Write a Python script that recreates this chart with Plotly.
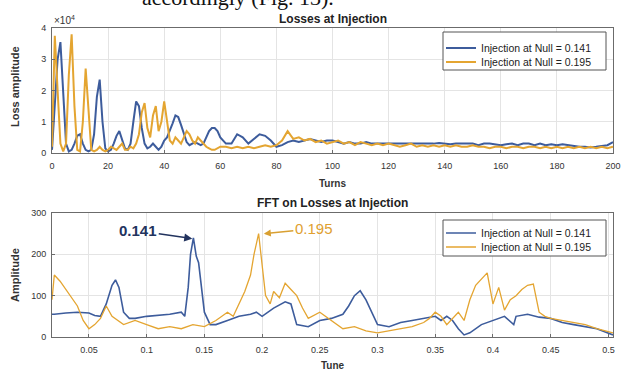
import plotly.graph_objects as go

# ---------------- data ----------------
turns = list(range(0, 61)) + list(range(62, 201, 2))

loss_0141 = [0.1, 1.5, 3.0, 3.55, 2.0, 0.3, 0.05, 0.1, 0.3, 0.55,
             0.6, 0.3, 0.1, 0.05, 0.1, 0.6, 1.8, 2.35, 1.0, 0.15,
             0.05, 0.1, 0.3, 0.55, 0.7, 0.4, 0.15, 0.1, 0.3, 1.0,
             1.65, 1.5, 0.8, 0.3, 0.15, 0.2, 0.3, 0.2, 0.1, 0.2,
             0.4, 0.5, 0.7, 0.95, 1.2, 1.15, 0.9, 0.6, 0.35, 0.25,
             0.3, 0.35, 0.3, 0.25, 0.3, 0.5, 0.7, 0.8, 0.8, 0.7, 0.5,
             0.3, 0.3, 0.6, 0.5, 0.3, 0.45, 0.6, 0.55, 0.4, 0.2,
             0.25, 0.35, 0.4, 0.35, 0.4, 0.45, 0.4, 0.35, 0.4, 0.4,
             0.35, 0.3, 0.35, 0.3, 0.3, 0.35, 0.3, 0.3, 0.3, 0.3,
             0.3, 0.28, 0.3, 0.3, 0.28, 0.3, 0.28, 0.3, 0.32, 0.3,
             0.28, 0.3, 0.3, 0.28, 0.3, 0.25, 0.3, 0.3, 0.28, 0.25,
             0.28, 0.3, 0.25, 0.3, 0.3, 0.25, 0.3, 0.25, 0.28, 0.25,
             0.28, 0.25, 0.22, 0.2, 0.2, 0.18, 0.2, 0.22, 0.25, 0.35]

loss_0195 = [0.2, 3.75, 2.0, 0.3, 0.05, 0.3, 2.5, 3.8, 1.5, 0.1,
             0.05, 1.0, 2.7, 1.5, 0.1, 0.05, 0.1, 0.2, 0.1, 0.05,
             0.1, 0.2, 0.15, 0.1, 0.2, 0.3, 0.1, 0.1, 0.2, 0.15,
             0.3, 0.6, 1.3, 1.6, 0.8, 0.5, 1.2, 1.5, 0.7, 1.0,
             1.65, 1.0, 0.4, 0.3, 0.5, 0.4, 0.3, 0.5, 0.7, 0.6,
             0.4, 0.3, 0.5, 0.4, 0.3, 0.2, 0.15, 0.1, 0.1, 0.15, 0.2,
             0.2, 0.15, 0.2, 0.15, 0.2, 0.15, 0.2, 0.25, 0.2, 0.25,
             0.4, 0.7, 0.45, 0.5, 0.4, 0.45, 0.35, 0.4, 0.3, 0.35,
             0.4, 0.3, 0.35, 0.25, 0.35, 0.3, 0.25, 0.3, 0.25, 0.3,
             0.25, 0.2, 0.25, 0.3, 0.2, 0.25, 0.2, 0.25, 0.2, 0.25,
             0.2, 0.25, 0.2, 0.2, 0.25, 0.2, 0.2, 0.15, 0.2, 0.2,
             0.15, 0.2, 0.2, 0.15, 0.2, 0.2, 0.15, 0.2, 0.15, 0.2,
             0.15, 0.2, 0.15, 0.2, 0.15, 0.2, 0.15, 0.2, 0.15, 0.2]

tune_0141 = [0.018, 0.02, 0.03, 0.04, 0.05, 0.055, 0.06, 0.065, 0.07, 0.073,
             0.076, 0.08, 0.085, 0.09, 0.1, 0.11, 0.12, 0.13, 0.133, 0.136,
             0.138, 0.1405, 0.143, 0.145, 0.147, 0.15, 0.155, 0.16, 0.17, 0.18,
             0.19, 0.195, 0.2, 0.21, 0.22, 0.225, 0.23, 0.24, 0.25, 0.26,
             0.27, 0.275, 0.28, 0.285, 0.29, 0.295, 0.3, 0.31, 0.32, 0.33,
             0.34, 0.35, 0.355, 0.36, 0.365, 0.37, 0.375, 0.38, 0.39, 0.4,
             0.405, 0.41, 0.418, 0.42, 0.43, 0.44, 0.45, 0.46, 0.47, 0.48,
             0.49, 0.504]
fft_0141 = [55, 55, 58, 60, 58, 52, 50, 80, 125, 138,
            120, 60, 45, 45, 50, 52, 55, 60, 50, 120,
            200, 240, 195, 180, 130, 60, 30, 30, 40, 50,
            55, 60, 50, 70, 85, 80, 30, 25, 40, 45,
            55, 75, 100, 112, 90, 60, 30, 25, 35, 40,
            45, 50, 40, 50, 40, 20, 5, 10, 30, 40,
            45, 50, 30, 50, 55, 48, 45, 35, 30, 25,
            20, 5]

tune_0195 = [0.018, 0.02, 0.025, 0.03, 0.035, 0.04, 0.045, 0.05, 0.055, 0.06,
             0.065, 0.07, 0.08, 0.09, 0.1, 0.11, 0.12, 0.13, 0.14, 0.15,
             0.16, 0.165, 0.17, 0.175, 0.18, 0.185, 0.19, 0.193, 0.197, 0.2,
             0.203, 0.207, 0.21, 0.215, 0.22, 0.225, 0.23, 0.235, 0.24, 0.25,
             0.26, 0.27, 0.28, 0.29, 0.3, 0.31, 0.32, 0.33, 0.34, 0.345,
             0.35, 0.355, 0.36, 0.365, 0.37, 0.375, 0.38, 0.385, 0.39, 0.395,
             0.4, 0.405, 0.41, 0.415, 0.42, 0.425, 0.43, 0.435, 0.44, 0.445,
             0.45, 0.46, 0.47, 0.48, 0.49, 0.504]
fft_0195 = [90, 150, 135, 115, 95, 75, 40, 20, 30, 45,
            75, 50, 30, 40, 30, 20, 25, 20, 30, 25,
            40, 50, 60, 50, 80, 110, 150, 200, 250, 170,
            100, 80, 110, 95, 130, 115, 100, 70, 45, 60,
            40, 20, 25, 15, 10, 15, 20, 25, 35, 45,
            60, 50, 30, 45, 60, 40, 90, 125, 140, 155,
            80, 120, 65, 90, 100, 115, 125, 128, 60, 50,
            45, 40, 35, 30, 20, 10]

top_xticks = [0, 20, 40, 60, 80, 100, 120, 140, 160, 180, 200]
top_yticks = [0, 1, 2, 3, 4]
bot_xticks = [0.05, 0.1, 0.15, 0.2, 0.25, 0.3, 0.35, 0.4, 0.45, 0.5]
bot_xlabels = ["0.05", "0.1", "0.15", "0.2", "0.25", "0.3", "0.35", "0.4", "0.45", "0.5"]
bot_yticks = [0, 100, 200, 300]

names = ["Injection at Null = 0.141", "Injection at Null = 0.195"]

# ---------------- style ----------------
BLUE = "#3d5c9c"
ORANGE = "#e4a531"
FONT = "Liberation Sans"

fig = go.Figure()

fig.add_trace(go.Scatter(x=turns, y=loss_0141, mode="lines", name=names[0],
                         line=dict(color=BLUE, width=2), xaxis="x", yaxis="y",
                         legend="legend"))
fig.add_trace(go.Scatter(x=turns, y=loss_0195, mode="lines", name=names[1],
                         line=dict(color=ORANGE, width=2), xaxis="x", yaxis="y",
                         legend="legend2"))
fig.add_trace(go.Scatter(x=tune_0141, y=fft_0141, mode="lines", name=names[0],
                         line=dict(color=BLUE, width=1.6), xaxis="x2", yaxis="y2",
                         legend="legend3"))
fig.add_trace(go.Scatter(x=tune_0195, y=fft_0195, mode="lines", name=names[1],
                         line=dict(color=ORANGE, width=1.3), xaxis="x2", yaxis="y2",
                         legend="legend4"))

axis_common = dict(showline=True, linecolor="#6b6b6b", linewidth=1, mirror=True,
                   showgrid=True, gridcolor="#e4e4e4", gridwidth=1,
                   ticks="inside", ticklen=3, tickcolor="#6b6b6b",
                   zeroline=False, automargin=False,
                   tickfont=dict(family=FONT, size=9, color="#333"))


def paper_y(px):
    return (337 - px) / 309


def paper_x(px):
    return (px - 52) / 561


def one_legend(ypx):
    return dict(x=paper_x(441), y=paper_y(ypx), xanchor="left", yanchor="middle",
                bgcolor="rgba(0,0,0,0)", borderwidth=0,
                font=dict(family=FONT, size=10.5, color="#222"),
                itemwidth=30, tracegroupgap=0)


fig.update_layout(
    width=624, height=371,
    margin=dict(l=52, r=11, t=28, b=34, autoexpand=False),
    paper_bgcolor="white", plot_bgcolor="white",
    font=dict(family=FONT, size=9, color="#222"),
    xaxis=dict(domain=[0, 1], range=[0, 200], tickvals=top_xticks, anchor="y",
               ticklabelstandoff=4, **axis_common),
    yaxis=dict(domain=[paper_y(153), 1], range=[0, 4], tickvals=top_yticks, anchor="x",
               ticklabelstandoff=3, **axis_common),
    xaxis2=dict(domain=[0, 1], range=[0.018, 0.504], tickvals=bot_xticks, ticktext=bot_xlabels,
                anchor="y2", ticklabelstandoff=4, **axis_common),
    yaxis2=dict(domain=[0, paper_y(213)], range=[0, 300], tickvals=bot_yticks, anchor="x2",
                ticklabelstandoff=3, **axis_common),
    legend=one_legend(48),
    legend2=one_legend(62),
    legend3=one_legend(233),
    legend4=one_legend(247),
    showlegend=True,
    shapes=[
        dict(type="rect", xref="paper", yref="paper", x0=paper_x(443), x1=paper_x(606),
             y0=paper_y(70), y1=paper_y(32), line=dict(color="#555", width=1),
             fillcolor="white", layer="above"),
        dict(type="rect", xref="paper", yref="paper", x0=paper_x(443), x1=paper_x(606),
             y0=paper_y(256), y1=paper_y(220), line=dict(color="#555", width=1),
             fillcolor="white", layer="above"),
    ],
)

ann = []
# clipped page text at top
ann.append(dict(text="accordingly (Fig. 13).", xref="paper", yref="paper", x=paper_x(140), y=1,
                xanchor="left", yanchor="bottom", yshift=16, showarrow=False,
                font=dict(family="Liberation Serif", size=22, color="#111")))
# titles
ann.append(dict(text="<b>Losses at Injection</b>", xref="paper", yref="paper", x=0.5, y=1,
                xanchor="center", yanchor="bottom", yshift=0, showarrow=False,
                font=dict(family=FONT, size=12, color="#222")))
ann.append(dict(text="<b>FFT on Losses at Injection</b>", xref="paper", yref="paper", x=0.5,
                y=paper_y(213), xanchor="center", yanchor="bottom", yshift=1, showarrow=False,
                font=dict(family=FONT, size=12, color="#222")))
# exponent
ann.append(dict(text="\u00d710<sup>4</sup>", xref="paper", yref="paper", x=0.0, y=1,
                xanchor="left", yanchor="bottom", yshift=0, showarrow=False,
                font=dict(family=FONT, size=10, color="#333")))
# axis titles
ann.append(dict(text="<b>Turns</b>", xref="paper", yref="paper", x=0.5, y=paper_y(153),
                xanchor="center", yanchor="top", yshift=-23, showarrow=False,
                font=dict(family=FONT, size=10, color="#333")))
ann.append(dict(text="<b>Tune</b>", xref="paper", yref="paper", x=0.5, y=0,
                xanchor="center", yanchor="top", yshift=-21, showarrow=False,
                font=dict(family=FONT, size=10, color="#333")))
ann.append(dict(text="<b>Loss amplitude</b>", xref="paper", yref="paper", x=0, y=paper_y(87),
                xanchor="right", yanchor="middle", xshift=-29, textangle=-90, showarrow=False,
                font=dict(family=FONT, size=11, color="#333")))
ann.append(dict(text="<b>Amplitude</b>", xref="paper", yref="paper", x=0, y=paper_y(275),
                xanchor="right", yanchor="middle", xshift=-29, textangle=-90, showarrow=False,
                font=dict(family=FONT, size=11, color="#333")))
# peak labels
ann.append(dict(text="<b>0.141</b>", xref="x2", yref="y2", x=0.1395, y=238,
                ax=-54, ay=-8, axref="pixel", ayref="pixel", showarrow=True,
                arrowhead=2, arrowsize=1, arrowwidth=1.6, arrowcolor="#22335e",
                font=dict(family=FONT, size=15, color="#22335e")))
ann.append(dict(text="0.195", xref="x2", yref="y2", x=0.2015, y=250,
                ax=50, ay=-5, axref="pixel", ayref="pixel", showarrow=True,
                arrowhead=2, arrowsize=1, arrowwidth=1.4, arrowcolor="#d9a032",
                font=dict(family=FONT, size=15, color="#e0a030")))
fig.update_layout(annotations=ann)

fig.write_html("out.html", config={"displayModeBar": False},
               post_script="document.body.style.margin='0';document.body.style.padding='0';")
